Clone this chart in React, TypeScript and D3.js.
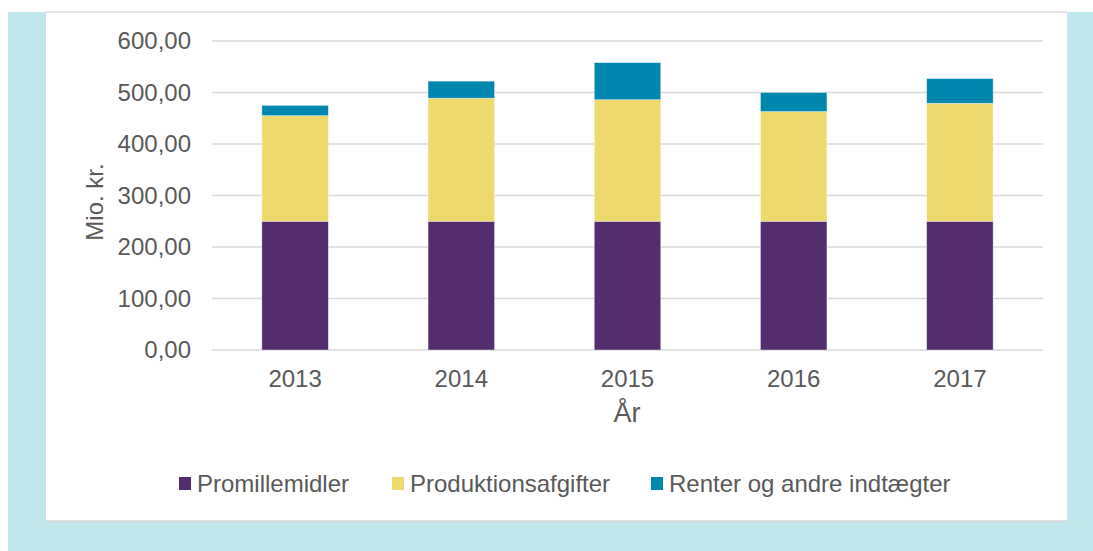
import React from "react";
import * as d3 from "d3";

const years = ["2013", "2014", "2015", "2016", "2017"];
const promillemidler = [250, 250, 250, 250, 250];
const produktionsafgifter = [205, 239, 236, 213, 229];
const renter = [20, 33, 72, 37, 48];
const yTicks = [0, 100, 200, 300, 400, 500, 600];
const seriesNames = ["Promillemidler", "Produktionsafgifter", "Renter og andre indtægter"];
const colors = ["#532d6d", "#eed96c", "#0087ad"];

export default function App() {
  const W = 1093, H = 551;
  const plotL = 212, plotR = 1043, plotT = 41, plotB = 350;
  const x = d3.scaleBand<string>().domain(years).range([plotL, plotR]).paddingInner(0.6).paddingOuter(0.3);
  const y = d3.scaleLinear().domain([0, 600]).range([plotB, plotT]);
  const rows = years.map((yr, i) => ({ year: yr, p: promillemidler[i], a: produktionsafgifter[i], r: renter[i] }));
  const stack = d3.stack<any>().keys(["p", "a", "r"])(rows);
  const fmt = (v: number) => v.toFixed(2).replace(".", ",");
  const font = "'Liberation Sans', Arial, sans-serif";
  const legendX = [179, 392, 651];
  return (
    <svg width={W} height={H} style={{ position: "absolute", left: 0, top: 0 }} fontFamily={font}>
      <rect x={8} y={12} width={W - 8} height={H - 12} fill="#c0e8ec" />
      <rect x={46} y={12} width={1021} height={509} fill="#ffffff" />
      <line x1={46} x2={1067} y1={12} y2={12} stroke="#d9d9d9" strokeWidth={1.5} />
      <line x1={46} x2={1067} y1={521} y2={521} stroke="#d9d9d9" strokeWidth={1.5} />
      {yTicks.map((t) => (
        <g key={t}>
          <line x1={plotL} x2={plotR} y1={y(t)} y2={y(t)} stroke="#d9d9d9" strokeWidth={1.5} />
          <text x={191} y={y(t)} dy="0.35em" textAnchor="end" fontSize={24} fill="#595959">{fmt(t)}</text>
        </g>
      ))}
      {stack.map((s, si) => (
        <g key={si} fill={colors[si]}>
          {s.map((d: any, i: number) => (
            <rect key={i} x={x(years[i])} width={x.bandwidth()} y={y(d[1])} height={y(d[0]) - y(d[1])}
              stroke="#ffffff" strokeOpacity={0.5} strokeWidth={0.75} />
          ))}
        </g>
      ))}
      {years.map((yr) => (
        <text key={yr} x={(x(yr) as number) + x.bandwidth() / 2} y={379} dy="0.35em" textAnchor="middle" fontSize={24} fill="#595959">{yr}</text>
      ))}
      <text x={627} y={413} dy="0.35em" textAnchor="middle" fontSize={27} fill="#595959">År</text>
      <text transform="translate(95,202) rotate(-90)" textAnchor="middle" dy="0.35em" fontSize={24} fill="#595959">Mio. kr.</text>
      {seriesNames.map((n, i) => (
        <g key={n}>
          <rect x={legendX[i]} y={477} width={12} height={13} fill={colors[i]} />
          <text x={legendX[i] + 18} y={484} dy="0.35em" fontSize={24} fill="#595959">{n}</text>
        </g>
      ))}
    </svg>
  );
}
